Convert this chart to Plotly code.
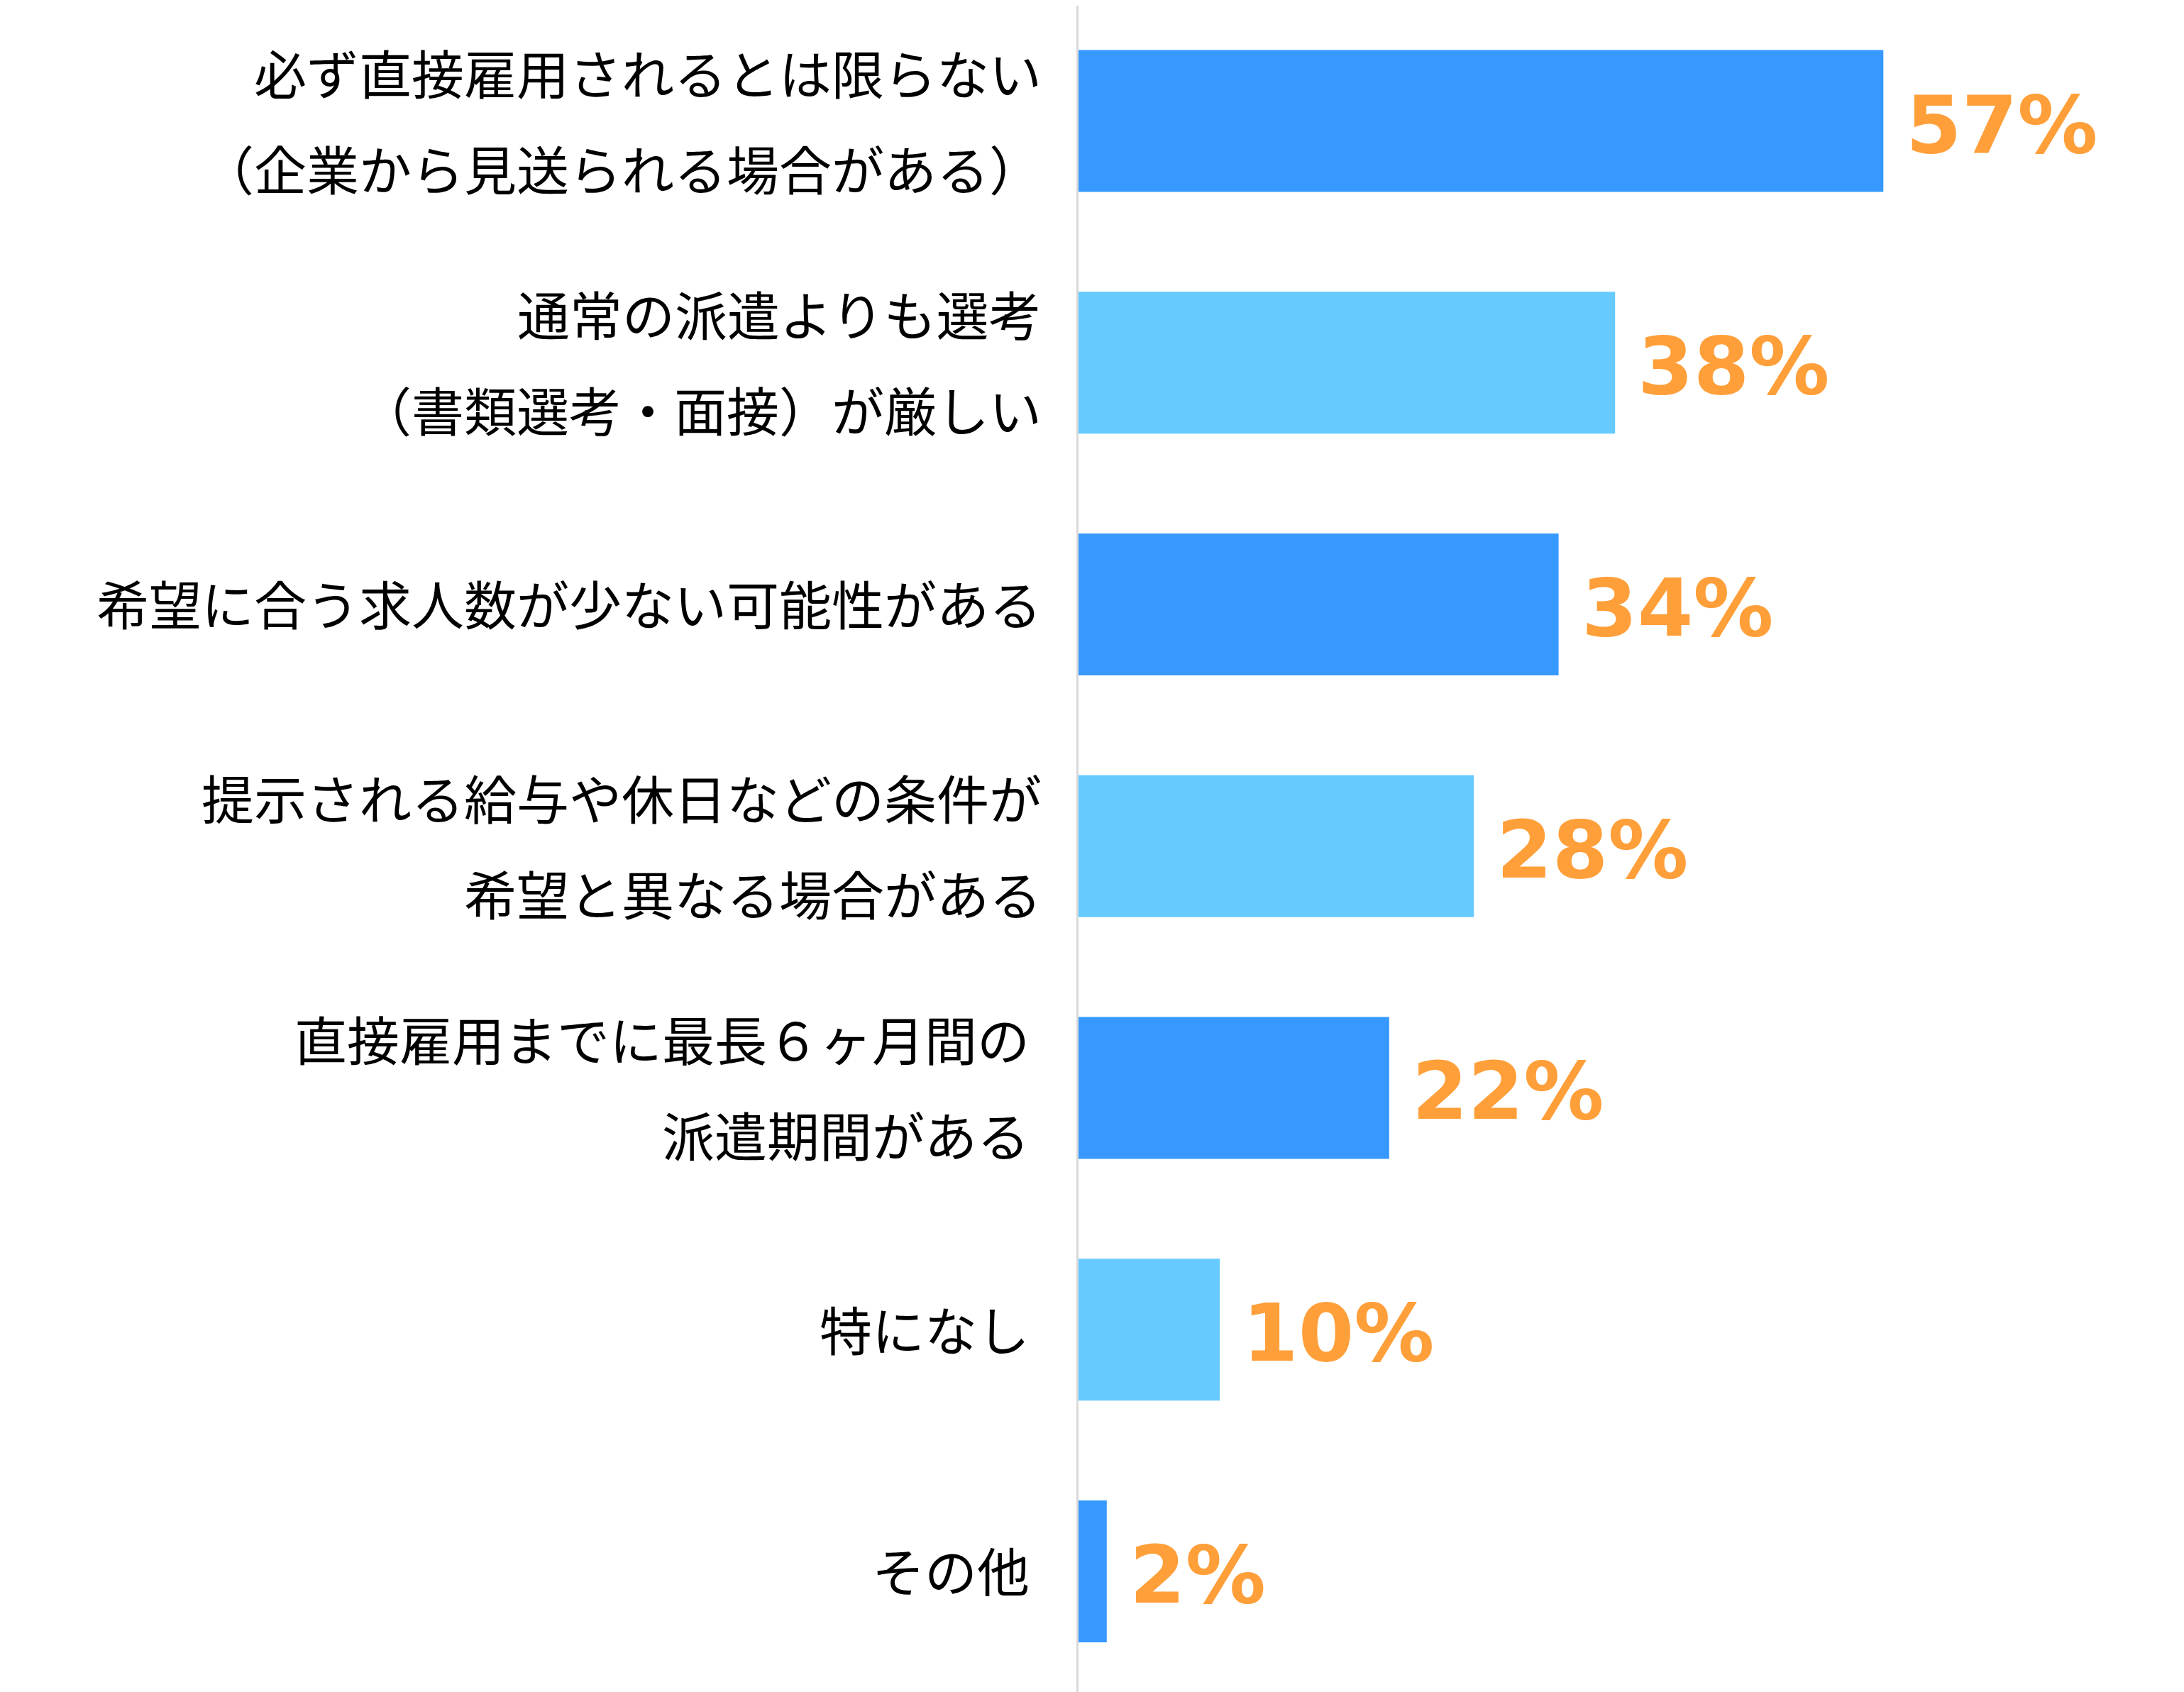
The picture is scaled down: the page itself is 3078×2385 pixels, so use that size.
import plotly.graph_objects as go

# categories (each list = the lines of one label) and values in %
labels = [
    ["必ず直接雇用されるとは限らない", "（企業から見送られる場合がある）"],
    ["通常の派遣よりも選考", "（書類選考・面接）が厳しい"],
    ["希望に合う求人数が少ない可能性がある"],
    ["提示される給与や休日などの条件が", "希望と異なる場合がある"],
    ["直接雇用までに最長６ヶ月間の\u00a0", "派遣期間がある\u00a0"],
    ["特になし\u00a0"],
    ["その他\u00a0"],
]
values = [57, 38, 34, 28, 22, 10, 2]

DARK = "#3799FF"
LIGHT = "#66CAFF"
ORANGE = "#FF9F3A"
bar_colors = [DARK if i % 2 == 0 else LIGHT for i in range(len(values))]

cats = list(range(len(values)))

fig = go.Figure()
fig.add_trace(go.Bar(
    x=values,
    y=cats,
    orientation="h",
    width=0.587,
    marker=dict(color=bar_colors, line=dict(width=0)),
    hoverinfo="skip",
))

annotations = []
line_gap = 135
for i, lines in enumerate(labels):
    n = len(lines)
    for j, line in enumerate(lines):
        offset = (j - (n - 1) / 2) * line_gap
        annotations.append(dict(
            x=0, y=i, xref="x", yref="y",
            text=line, showarrow=False,
            xanchor="right", yanchor="middle",
            xshift=-50, yshift=-offset + 3,
            font=dict(family="Noto Sans CJK JP", size=74, color="#000000"),
        ))
    annotations.append(dict(
        x=values[i], y=i, xref="x", yref="y",
        text=f"{values[i]}%", showarrow=False,
        xanchor="left", yanchor="middle",
        xshift=30, yshift=-5,
        font=dict(family="DejaVu Sans", size=113, color=ORANGE, weight="bold"),
    ))

# the page body adds an 8px margin, so the figure is 8px smaller each way
fig.update_layout(
    width=3070, height=2377,
    margin=dict(l=1512, r=0, t=0, b=0),
    paper_bgcolor="white", plot_bgcolor="white",
    showlegend=False,
    annotations=annotations,
)
fig.update_xaxes(range=[0, 78.29], visible=False, showgrid=False, zeroline=False)
fig.update_yaxes(range=[6.499, -0.4769], autorange=False, showticklabels=False,
                 showgrid=False, zeroline=False,
                 showline=True, linecolor="#d9d9d9", linewidth=3)

fig.write_html("out.html")
